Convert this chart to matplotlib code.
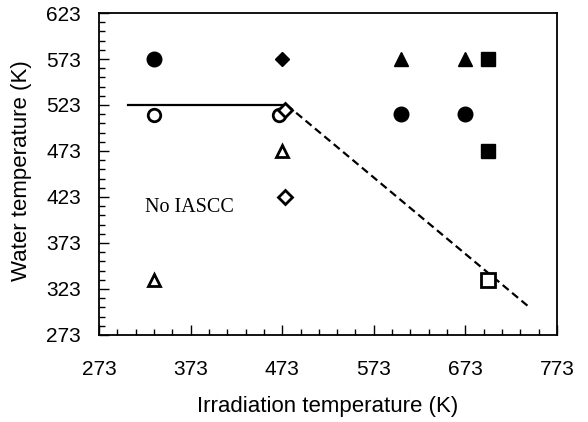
import matplotlib
matplotlib.use("Agg")
import matplotlib.pyplot as plt
import numpy as np

plt.rcParams['font.family'] = ['Liberation Sans', 'DejaVu Sans']

# Tick labels
x_major = [273, 373, 473, 573, 673, 773]
y_major = [273, 323, 373, 423, 473, 523, 573, 623]

# Filled markers (IASCC observed)
fc_x = [333, 603, 673]; fc_y = [573, 513, 513]          # filled circles
fd_x = [473]; fd_y = [573]                              # filled diamonds
ft_x = [603, 673]; ft_y = [573, 573]                    # filled triangles
fs_x = [698, 698]; fs_y = [573, 473]                    # filled squares
# Open markers (no IASCC)
oc_x = [333, 470]; oc_y = [512, 512]                    # open circles
od_x = [476, 476]; od_y = [518, 423]                    # open diamonds
ot_x = [333, 473]; ot_y = [333, 473]                    # open triangles
os_x = [698]; os_y = [333]                              # open squares
# Boundary lines
solid_x = [305, 478]; solid_y = [523, 523]
dash_x = [478, 743]; dash_y = [523, 303]

fig = plt.figure(figsize=(5.88, 4.22), dpi=100)
ax = fig.add_axes([99/588, 1-335/422, (557-99)/588, (335-13)/422])

ax.plot(solid_x, solid_y, color='black', lw=1.6)
ax.plot(dash_x, dash_y, color='black', lw=1.6, ls=(0, (3.5, 2)))

ax.plot(fc_x, fc_y, 'o', color='black', ms=10.5, ls='none')
ax.plot(fd_x, fd_y, 'D', color='black', ms=7.5, ls='none')
ax.plot(ft_x, ft_y, '^', color='black', ms=10, ls='none')
ax.plot(fs_x, fs_y, 's', color='black', ms=10.5, ls='none')

ax.plot(oc_x, oc_y, 'o', mfc='white', mec='black', mew=2, ms=9, ls='none')
ax.plot(od_x, od_y, 'D', mfc='white', mec='black', mew=2, ms=7, ls='none')
ax.plot(ot_x, ot_y, '^', mfc='white', mec='black', mew=2, ms=9, ls='none')
ax.plot(os_x, os_y, 's', mfc='white', mec='black', mew=2, ms=10.5, ls='none')

ax.text(372, 412, 'No IASCC', family=['Liberation Serif', 'DejaVu Serif'],
        fontsize=14.5, ha='center', va='center')

ax.set_xlim(273, 773)
ax.set_ylim(273, 623)
ax.set_xticks(x_major)
ax.set_xticks(np.arange(273, 774, 20), minor=True)
ax.set_yticks(y_major)
ax.set_yticks(np.arange(273, 624, 10), minor=True)
ax.tick_params(which='both', direction='in', top=False, right=False, labelsize=15, width=1)
ax.tick_params(which='major', length=7)
ax.tick_params(which='minor', length=4)
ax.tick_params(axis='x', pad=18)
ax.tick_params(axis='y', pad=13)
for s in ax.spines.values():
    s.set_linewidth(1.3)

ax.set_xlabel('Irradiation temperature (K)', fontsize=16, labelpad=12)
ax.set_ylabel('Water temperature (K)', fontsize=16, labelpad=10)
ax.yaxis.label.set_y(0.51)

fig.savefig('out.png', dpi=100)
